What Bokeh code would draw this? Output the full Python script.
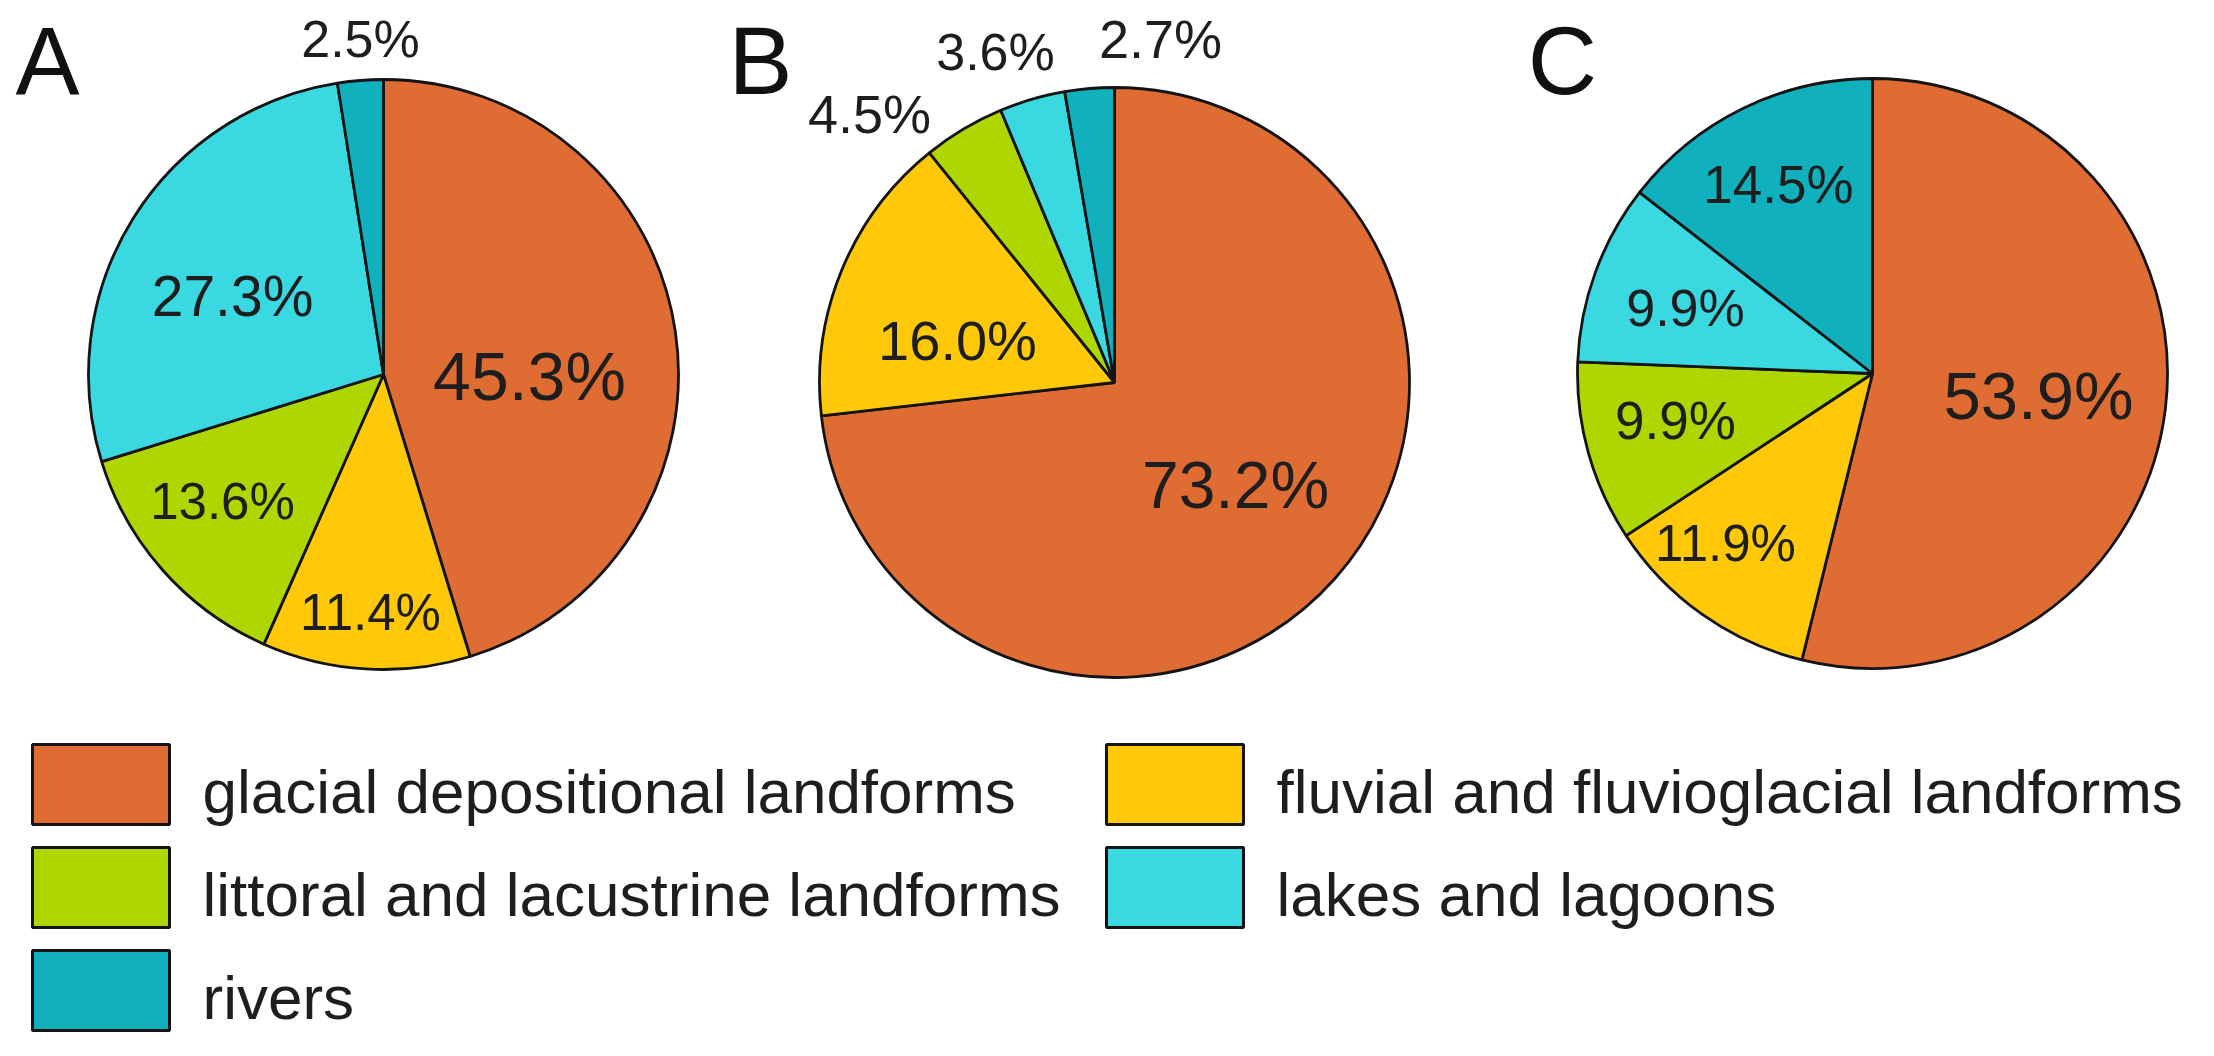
import math
from bokeh.plotting import figure
from bokeh.models import Range1d, ColumnDataSource
from bokeh.core.properties import value
from bokeh.embed import file_html
from bokeh.resources import INLINE

# ---------------- data ----------------
categories = ["glacial depositional landforms", "fluvial and fluvioglacial landforms",
              "littoral and lacustrine landforms", "lakes and lagoons", "rivers"]
colors = ["#DF6C33", "#FFC90A", "#AED600", "#3AD8E0", "#10B0BD"]
panels = ["A", "B", "C"]
values_A = [45.3, 11.4, 13.6, 27.3, 2.5]
values_B = [73.2, 16.0, 4.5, 3.6, 2.7]
values_C = [53.9, 11.9, 9.9, 9.9, 14.5]
labels_A = ["45.3%", "11.4%", "13.6%", "27.3%", "2.5%"]
labels_B = ["73.2%", "16.0%", "4.5%", "3.6%", "2.7%"]
labels_C = ["53.9%", "11.9%", "9.9%", "9.9%", "14.5%"]

# ---------------- layout (reference pixel coords, y down) ----------------
W, H = 2214, 1056
centers = [(391, 382), (1122, 390), (1880, 381)]
R = 295
# label anchor offsets from pie centre (x centre, baseline), and font sizes
label_offsets = [
    [(146, 16), (-13, 249), (-161, 138), (-151, -66), (-23, -324)],
    [(121, 117), (-157, -30), (-245, -257), (-119, -319), (46, -332)],
    [(166, 37), (-147, 181), (-197, 59), (-187, -54), (-94, -177)],
]
label_sizes = [
    [68, 51, 51, 57, 52],
    [66, 56, 54, 52, 54],
    [67, 51, 53, 52, 53],
]
panel_letter_pos = [(55, 104), (768, 104), (1570, 104)]
FONT = value("Liberation Sans")


def Y(yref):
    return H - yref


def Yt(yref, size, shift):
    return H - (yref - shift * size)


p = figure(width=W - 16, height=H - 16, output_backend="svg", toolbar_location=None,
           x_range=Range1d(8, W - 8), y_range=Range1d(8, H - 8),
           x_axis_location=None, y_axis_location=None, min_border=0,
           outline_line_color=None, background_fill_color="white",
           border_fill_color="white")
p.grid.visible = False

all_values = [values_A, values_B, values_C]
all_labels = [labels_A, labels_B, labels_C]

for k, vals in enumerate(all_values):
    cx, cy = centers[k]
    total = sum(vals)
    cum = 0.0
    starts, ends = [], []
    for v in vals:
        c0 = cum / total
        cum += v
        c1 = cum / total
        starts.append(math.pi / 2 - 2 * math.pi * c1)
        ends.append(math.pi / 2 - 2 * math.pi * c0)
    src = ColumnDataSource(dict(start=starts, end=ends, color=colors))
    p.wedge(x=cx, y=Y(cy), radius=R, start_angle="start", end_angle="end",
            direction="anticlock", fill_color="color", line_color="#141414",
            line_width=2.8, source=src)
    lx = [cx + dx for dx, dy in label_offsets[k]]
    ly = [Yt(cy + dy, s, 0.22) for (dx, dy), s in zip(label_offsets[k], label_sizes[k])]
    ls = ["%dpx" % s for s in label_sizes[k]]
    tsrc = ColumnDataSource(dict(x=lx, y=ly, t=all_labels[k], s=ls))
    p.text(x="x", y="y", text="t", text_font_size="s", text_font=FONT,
           text_align="center", text_baseline="alphabetic", text_color="#1e1e1e",
           source=tsrc)

# panel letters
LET = 96
p.text(x=[q[0] for q in panel_letter_pos], y=[Yt(q[1], LET, 0.37) for q in panel_letter_pos],
       text=panels, text_font=FONT, text_font_size="%dpx" % LET,
       text_align="center", text_baseline="alphabetic", text_color="#111111")

# legend (manual)
LEG = 62
box_w, box_h = 137, 80
col_x = [40, 1114]
row_y = [752, 855, 958]
text_gap = [33, 33]
slots = [(0, 0), (1, 0), (0, 1), (1, 1), (0, 2)]
lefts, rights, tops, bottoms, tx, ty = [], [], [], [], [], []
for (ci, ri) in slots:
    x0 = col_x[ci]
    y0 = row_y[ri]
    lefts.append(x0)
    rights.append(x0 + box_w)
    tops.append(Y(y0))
    bottoms.append(Y(y0 + box_h))
    tx.append(x0 + box_w + text_gap[ci])
    ty.append(Yt(y0 + 68, LEG, 0.34))
p.quad(left=lefts, right=rights, top=tops, bottom=bottoms, fill_color=colors,
       line_color="#141414", line_width=3)
p.text(x=tx, y=ty, text=categories, text_font=FONT, text_font_size="%dpx" % LEG,
       text_align="left", text_baseline="alphabetic", text_color="#1e1e1e")

open("out.html", "w").write(file_html(p, INLINE))
